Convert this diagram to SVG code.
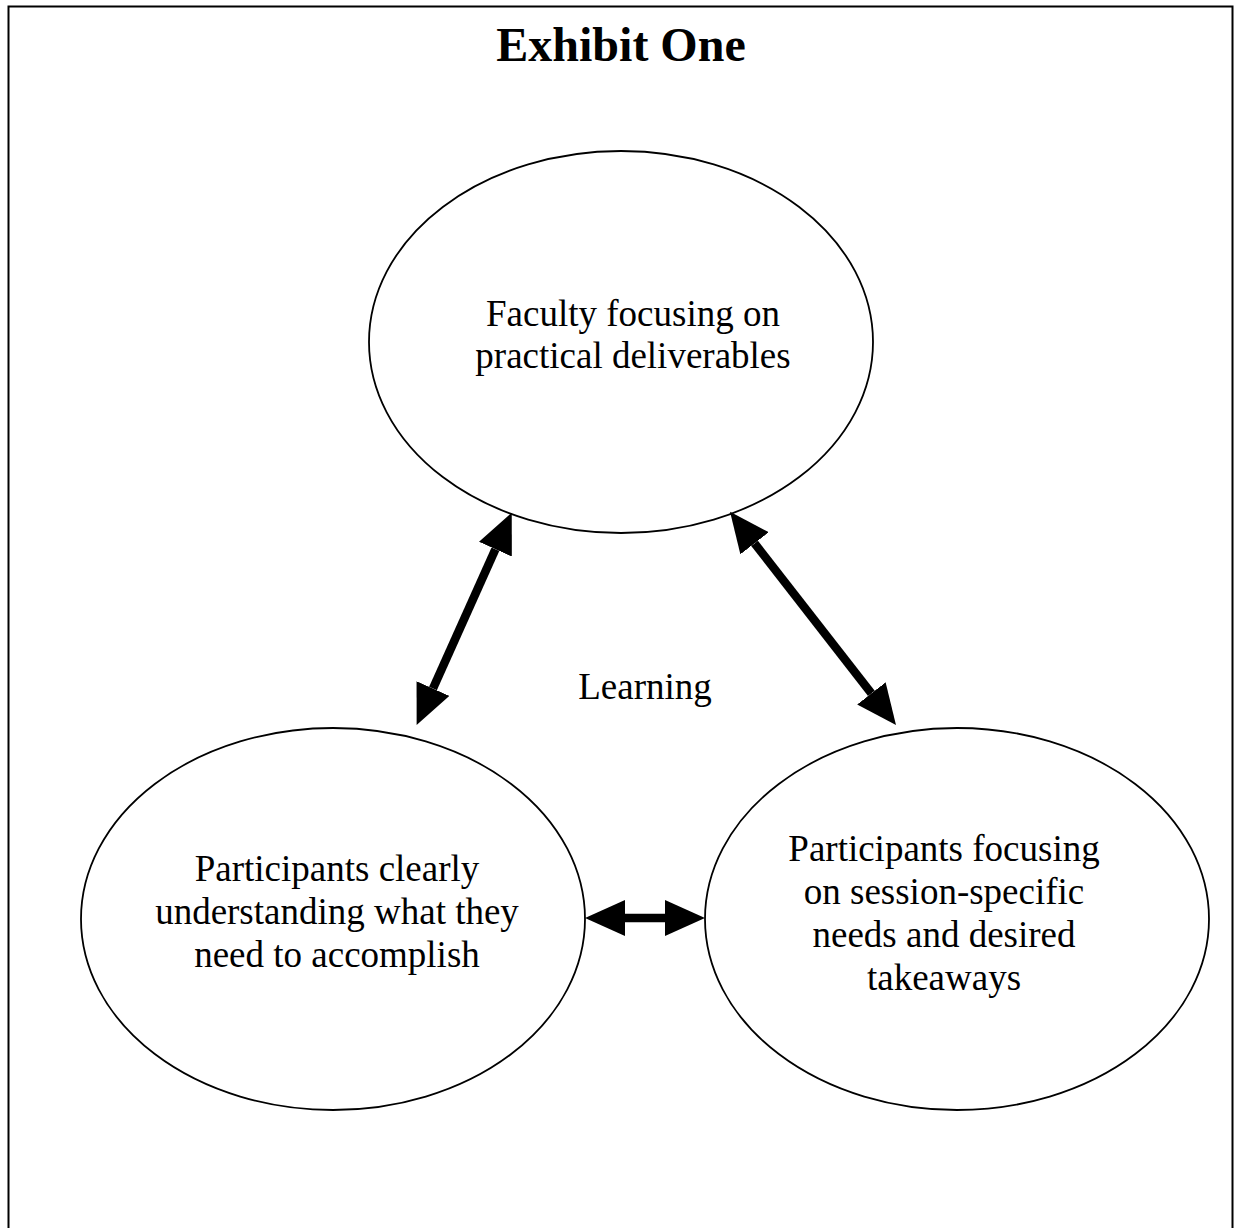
<svg xmlns="http://www.w3.org/2000/svg" width="1235" height="1228" viewBox="0 0 1235 1228">
<style>
  .frame { fill: none; stroke: #000; stroke-width: 2; }
  .node { fill: #fff; stroke: #000; stroke-width: 1.8; }
  .label { font-family: "Liberation Serif", "Times New Roman", serif; font-size: 37px; fill: #000; text-anchor: middle; }
  .title { font-family: "Liberation Serif", "Times New Roman", serif; font-size: 48px; font-weight: bold; fill: #000; text-anchor: middle; }
  .conn { stroke: #000; stroke-width: 8.5; fill: none; marker-start: url(#head); marker-end: url(#head); }
</style>
<defs>
  <marker id="head" viewBox="0 0 40 36" refX="0" refY="18" markerWidth="40" markerHeight="36" markerUnits="userSpaceOnUse" orient="auto-start-reverse">
    <path d="M0,0 L40,18 L0,36 z" fill="#000"/>
  </marker>
</defs>
<rect width="1235" height="1228" fill="#fff"/>
<rect class="frame" x="8.5" y="6.5" width="1224" height="1240"/>
<text class="title" x="621" y="61">Exhibit One</text>

<g id="node-faculty">
  <ellipse class="node" cx="621" cy="342" rx="252" ry="191"/>
  <text class="label" x="633" y="326">Faculty focusing on</text>
  <text class="label" x="633" y="368">practical deliverables</text>
</g>

<g id="node-understanding">
  <ellipse class="node" cx="333" cy="919" rx="252" ry="191"/>
  <text class="label" x="337" y="881">Participants clearly</text>
  <text class="label" x="337" y="924">understanding what they</text>
  <text class="label" x="337" y="967">need to accomplish</text>
</g>

<g id="node-session">
  <ellipse class="node" cx="957" cy="919" rx="252" ry="191"/>
  <text class="label" x="944" y="861">Participants focusing</text>
  <text class="label" x="944" y="904">on session-specific</text>
  <text class="label" x="944" y="947">needs and desired</text>
  <text class="label" x="944" y="990">takeaways</text>
</g>

<g id="label-learning">
  <text class="label" x="645" y="699">Learning</text>
</g>

<g id="connectors">
  <line class="conn" x1="495.4" y1="549.2" x2="433.0" y2="688.5"/>
  <line class="conn" x1="754.6" y1="543.3" x2="871.4" y2="693.4"/>
  <line class="conn" x1="625" y1="918" x2="665" y2="918"/>
</g>
</svg>
